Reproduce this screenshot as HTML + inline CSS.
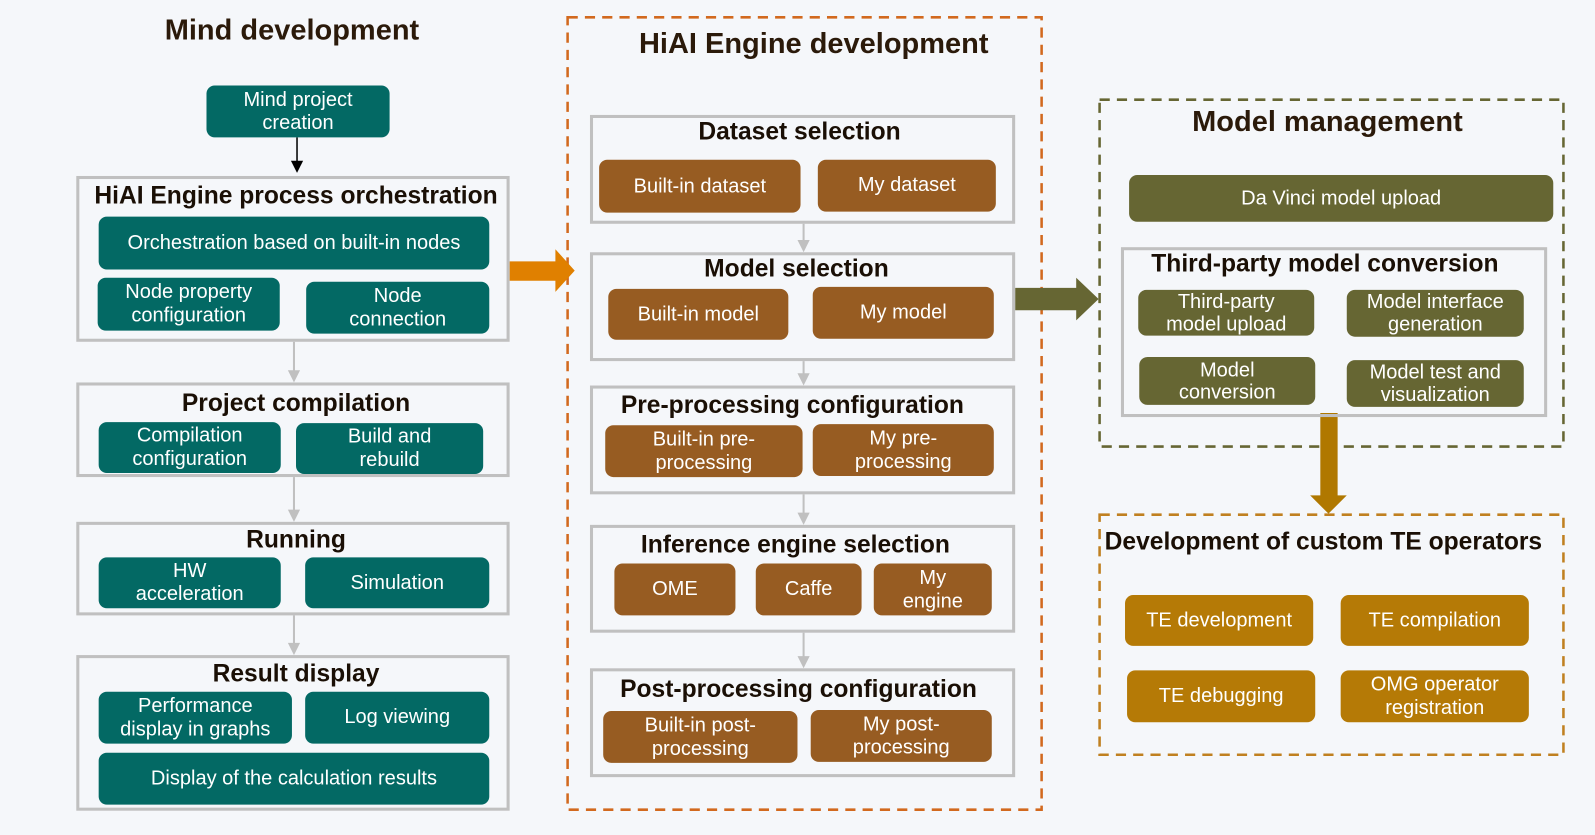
<!DOCTYPE html>
<html><head><meta charset="utf-8"><style>
html,body{margin:0;padding:0;width:1595px;height:835px;overflow:hidden;background:#f5f7fa;}
#w{position:absolute;left:0;top:0;width:1568px;height:821px;transform:scale(1.0172);transform-origin:0 0;font-family:"Liberation Sans",sans-serif;}
.a{position:absolute;box-sizing:border-box;}
.g{border:3px solid #c0c0c0;}
.b{color:#fff;font-size:19.7px;line-height:23px;border-radius:8px;display:flex;align-items:center;justify-content:center;text-align:center;}
.t{color:#1a0f05;font-weight:bold;font-size:24.2px;text-align:center;white-space:nowrap;}
.tl{background:#036964;}
.br{background:#975c22;}
.ol{background:#666633;}
.gd{background:#b57a06;}
.h{color:#2b1a0a;font-weight:bold;font-size:28.5px;text-align:center;white-space:nowrap;}
</style></head><body><div id="w">
<svg class="a" style="left:0;top:0" width="1568" height="821">
<rect x="558" y="17" width="466" height="779" fill="none" stroke="#d2691e" stroke-width="2.5" stroke-dasharray="10,7"/>
<rect x="1081" y="98" width="456" height="341" fill="none" stroke="#666633" stroke-width="2.5" stroke-dasharray="10,7"/>
<rect x="1081" y="506" width="456" height="236" fill="none" stroke="#c08020" stroke-width="2.5" stroke-dasharray="10,7"/>
<line x1="292" y1="135" x2="292" y2="160" stroke="#000" stroke-width="1.5"/><polygon points="286,158 298,158 292,170" fill="#000"/>
<g stroke="#c0c0c0" stroke-width="2" fill="#c0c0c0">
<line x1="289" y1="336" x2="289" y2="366"/><polygon points="283,364 295,364 289,376" stroke="none"/>
<line x1="289" y1="469" x2="289" y2="503"/><polygon points="283,501 295,501 289,513" stroke="none"/>
<line x1="289" y1="605" x2="289" y2="634"/><polygon points="283,632 295,632 289,644" stroke="none"/>
<line x1="790" y1="220" x2="790" y2="238"/><polygon points="784,236 796,236 790,248" stroke="none"/>
<line x1="790" y1="355" x2="790" y2="369"/><polygon points="784,367 796,367 790,379" stroke="none"/>
<line x1="790" y1="486" x2="790" y2="506"/><polygon points="784,504 796,504 790,516" stroke="none"/>
<line x1="790" y1="622" x2="790" y2="647"/><polygon points="784,645 796,645 790,657" stroke="none"/>
</g>
<polygon points="501,257 546,257 546,245 565,266 546,287 546,276 501,276" fill="#e08000"/>
<polygon points="998,283 1058,283 1058,273 1080,294 1058,315 1058,305 998,305" fill="#666633"/>
<polygon points="1298,406 1315,406 1315,487 1324,487 1306,505 1288,487 1298,487" fill="#b07800"/>
</svg>
<div class="a h" style="left:87px;top:14px;width:400px">Mind development</div>
<div class="a b tl" style="left:203px;top:84px;width:180px;height:51px">Mind project<br>creation</div>
<div class="a g" style="left:75px;top:173px;width:426px;height:163px"></div>
<div class="a t" style="left:75px;top:179px;width:432px">HiAI Engine process orchestration</div>
<div class="a b tl" style="left:97px;top:213px;width:384px;height:52px">Orchestration based on built-in nodes</div>
<div class="a b tl" style="left:96px;top:273px;width:179px;height:52px">Node property<br>configuration</div>
<div class="a b tl" style="left:301px;top:277px;width:180px;height:51px">Node<br>connection</div>
<div class="a g" style="left:75px;top:376px;width:426px;height:93px"></div>
<div class="a t" style="left:75px;top:383px;width:432px">Project compilation</div>
<div class="a b tl" style="left:97px;top:415px;width:179px;height:50px">Compilation<br>configuration</div>
<div class="a b tl" style="left:291px;top:416px;width:184px;height:50px">Build and<br>rebuild</div>
<div class="a g" style="left:75px;top:513px;width:426px;height:92px"></div>
<div class="a t" style="left:75px;top:517px;width:432px">Running</div>
<div class="a b tl" style="left:97px;top:548px;width:179px;height:50px">HW<br>acceleration</div>
<div class="a b tl" style="left:300px;top:548px;width:181px;height:50px">Simulation</div>
<div class="a g" style="left:75px;top:644px;width:426px;height:153px"></div>
<div class="a t" style="left:75px;top:649px;width:432px">Result display</div>
<div class="a b tl" style="left:97px;top:680px;width:190px;height:51px">Performance<br>display in graphs</div>
<div class="a b tl" style="left:300px;top:680px;width:181px;height:51px">Log viewing</div>
<div class="a b tl" style="left:97px;top:740px;width:384px;height:51px">Display of the calculation results</div>

<div class="a h" style="left:600px;top:27px;width:400px">HiAI Engine development</div>
<div class="a g" style="left:580px;top:113px;width:418px;height:107px"></div>
<div class="a t" style="left:580px;top:116px;width:412px">Dataset selection</div>
<div class="a b br" style="left:589px;top:157px;width:198px;height:52px">Built-in dataset</div>
<div class="a b br" style="left:804px;top:157px;width:175px;height:51px">My dataset</div>
<div class="a g" style="left:580px;top:248px;width:418px;height:107px"></div>
<div class="a t" style="left:580px;top:251px;width:406px">Model selection</div>
<div class="a b br" style="left:598px;top:284px;width:177px;height:50px">Built-in model</div>
<div class="a b br" style="left:799px;top:282px;width:178px;height:51px">My model</div>
<div class="a g" style="left:580px;top:379px;width:418px;height:107px"></div>
<div class="a t" style="left:580px;top:385px;width:398px">Pre-processing configuration</div>
<div class="a b br" style="left:595px;top:418px;width:194px;height:51px">Built-in pre-<br>processing</div>
<div class="a b br" style="left:799px;top:417px;width:178px;height:51px">My pre-<br>processing</div>
<div class="a g" style="left:580px;top:516px;width:418px;height:106px"></div>
<div class="a t" style="left:580px;top:522px;width:404px">Inference engine selection</div>
<div class="a b br" style="left:604px;top:554px;width:119px;height:51px">OME</div>
<div class="a b br" style="left:743px;top:554px;width:104px;height:51px">Caffe</div>
<div class="a b br" style="left:859px;top:554px;width:116px;height:51px">My<br>engine</div>
<div class="a g" style="left:580px;top:657px;width:418px;height:107px"></div>
<div class="a t" style="left:580px;top:664px;width:410px">Post-processing configuration</div>
<div class="a b br" style="left:593px;top:699px;width:191px;height:51px">Built-in post-<br>processing</div>
<div class="a b br" style="left:797px;top:698px;width:178px;height:51px">My post-<br>processing</div>

<div class="a h" style="left:1105px;top:104px;width:400px">Model management</div>
<div class="a b ol" style="left:1110px;top:172px;width:417px;height:46px">Da Vinci model upload</div>
<div class="a g" style="left:1102px;top:243px;width:419px;height:167px"></div>
<div class="a t" style="left:1102px;top:246px;width:401px">Third-party model conversion</div>
<div class="a b ol" style="left:1119px;top:285px;width:173px;height:45px;line-height:22px">Third-party<br>model upload</div>
<div class="a b ol" style="left:1324px;top:285px;width:174px;height:46px;line-height:22px">Model interface<br>generation</div>
<div class="a b ol" style="left:1120px;top:351px;width:173px;height:47px;line-height:22px">Model<br>conversion</div>
<div class="a b ol" style="left:1324px;top:354px;width:174px;height:46px;line-height:22px">Model test and<br>visualization</div>

<div class="a t" style="left:1081px;top:519px;width:440px">Development of custom TE operators</div>
<div class="a b gd" style="left:1106px;top:585px;width:185px;height:50px">TE development</div>
<div class="a b gd" style="left:1318px;top:585px;width:185px;height:50px">TE compilation</div>
<div class="a b gd" style="left:1108px;top:659px;width:185px;height:51px">TE debugging</div>
<div class="a b gd" style="left:1318px;top:659px;width:185px;height:51px">OMG operator<br>registration</div>
</div></body></html>
